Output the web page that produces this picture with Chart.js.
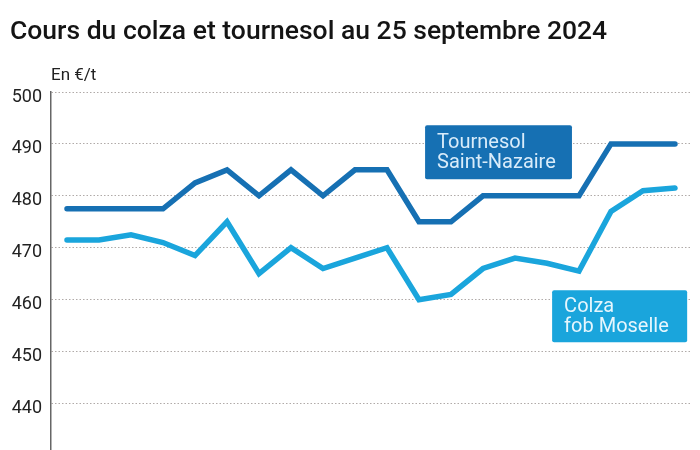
<!DOCTYPE html>
<html>
<head>
<meta charset="utf-8">
<title>Cours du colza et tournesol</title>
<style>
  body { margin: 0; background: #fff; font-family: Roboto, "Noto Sans", sans-serif; }
  .wrap { position: relative; width: 700px; height: 450px; overflow: hidden; }
  #titre { position: absolute; left: 10px; top: 14px; font-size: 26.5px; font-weight: 500; color: #141414; white-space: nowrap; line-height: normal; }
  #unite { position: absolute; left: 51px; top: 64px; font-size: 17px; color: #222; line-height: normal; }
  canvas { position: absolute; left: 0; top: 0; }
</style>
</head>
<body>
<div class="wrap">
  <canvas id="chart" width="700" height="470"></canvas>
  <div id="titre">Cours du colza et tournesol au 25 septembre 2024</div>
  <div id="unite">En €/t</div>
</div>
<script src="https://cdn.jsdelivr.net/npm/chart.js@4/dist/chart.umd.min.js"></script>
<script>
// cotations successives (les dates ne sont pas affichées sur le graphique)
const points = [0,1,2,3,4,5,6,7,8,9,10,11,12,13,14,15,16,17,18,19];
const tournesol = [477.5,477.5,477.5,477.5,482.5,485,480,485,480,485,485,475,475,480,480,480,480,490,490,490];
const colza = [471.5,471.5,472.5,471,468.5,475,465,470,466,468,470,460,461,466,468,467,465.5,477,481,481.5];
const yTicks = [440,450,460,470,480,490,500];

const bleuFonce = '#1670b3';
const bleuClair = '#1aa5dc';

// étiquettes des séries, placées en coordonnées de données
const etiquettes = [
  { lignes: ['Tournesol', 'Saint-Nazaire'], x0: 11.19, x1: 15.78, y0: 493.6, y1: 483.2, fond: bleuFonce, texte: '#d9ecfa', dy: [23, 43] },
  { lignes: ['Colza', 'fob Moselle'], x0: 15.16, x1: 19.38, y0: 461.8, y1: 451.8, fond: bleuClair, texte: '#e6f6fd', dy: [22, 42] }
];

const pluginEtiquettes = {
  id: 'etiquettes',
  afterDatasetsDraw(chart) {
    const ctx = chart.ctx, xs = chart.scales.x, ys = chart.scales.y;
    etiquettes.forEach(e => {
      const l = xs.getPixelForValue(e.x0), r = xs.getPixelForValue(e.x1);
      const t = ys.getPixelForValue(e.y0), b = ys.getPixelForValue(e.y1);
      ctx.save();
      ctx.fillStyle = e.fond;
      ctx.beginPath();
      ctx.roundRect(l, t, r - l, b - t, 2);
      ctx.fill();
      ctx.fillStyle = e.texte;
      ctx.font = '20px Roboto';
      ctx.textBaseline = 'alphabetic';
      ctx.fillText(e.lignes[0], l + 12, t + e.dy[0]);
      ctx.fillText(e.lignes[1], l + 12, t + e.dy[1]);
      ctx.restore();
    });
  }
};

new Chart(document.getElementById('chart'), {
  type: 'line',
  data: {
    datasets: [
      { label: 'Tournesol Saint-Nazaire', data: points.map((p, i) => ({ x: p, y: tournesol[i] })),
        borderColor: bleuFonce, borderWidth: 5.5, pointRadius: 0, borderCapStyle: 'round', tension: 0 },
      { label: 'Colza fob Moselle', data: points.map((p, i) => ({ x: p, y: colza[i] })),
        borderColor: bleuClair, borderWidth: 5.5, pointRadius: 0, borderCapStyle: 'round', tension: 0 }
    ]
  },
  options: {
    responsive: false,
    animation: false,
    layout: { padding: { top: 92, right: 9, bottom: 0, left: 0 } },
    plugins: { legend: { display: false }, tooltip: { enabled: false } },
    scales: {
      x: { type: 'linear', min: -0.5, max: 19.5, display: false },
      y: {
        min: 431, max: 500,
        afterBuildTicks: s => { s.ticks = yTicks.map(v => ({ value: v })); },
        afterFit: s => { s.width = 51; },
        ticks: { color: '#222', font: { family: 'Roboto', size: 18 }, padding: 9, labelOffset: 5 },
        grid: { color: '#b0aaa8', lineWidth: 1, drawTicks: false },
        border: { display: true, color: '#666', width: 1.5, dash: [1.5, 2] }
      }
    }
  },
  plugins: [pluginEtiquettes]
});
</script>
</body>
</html>
